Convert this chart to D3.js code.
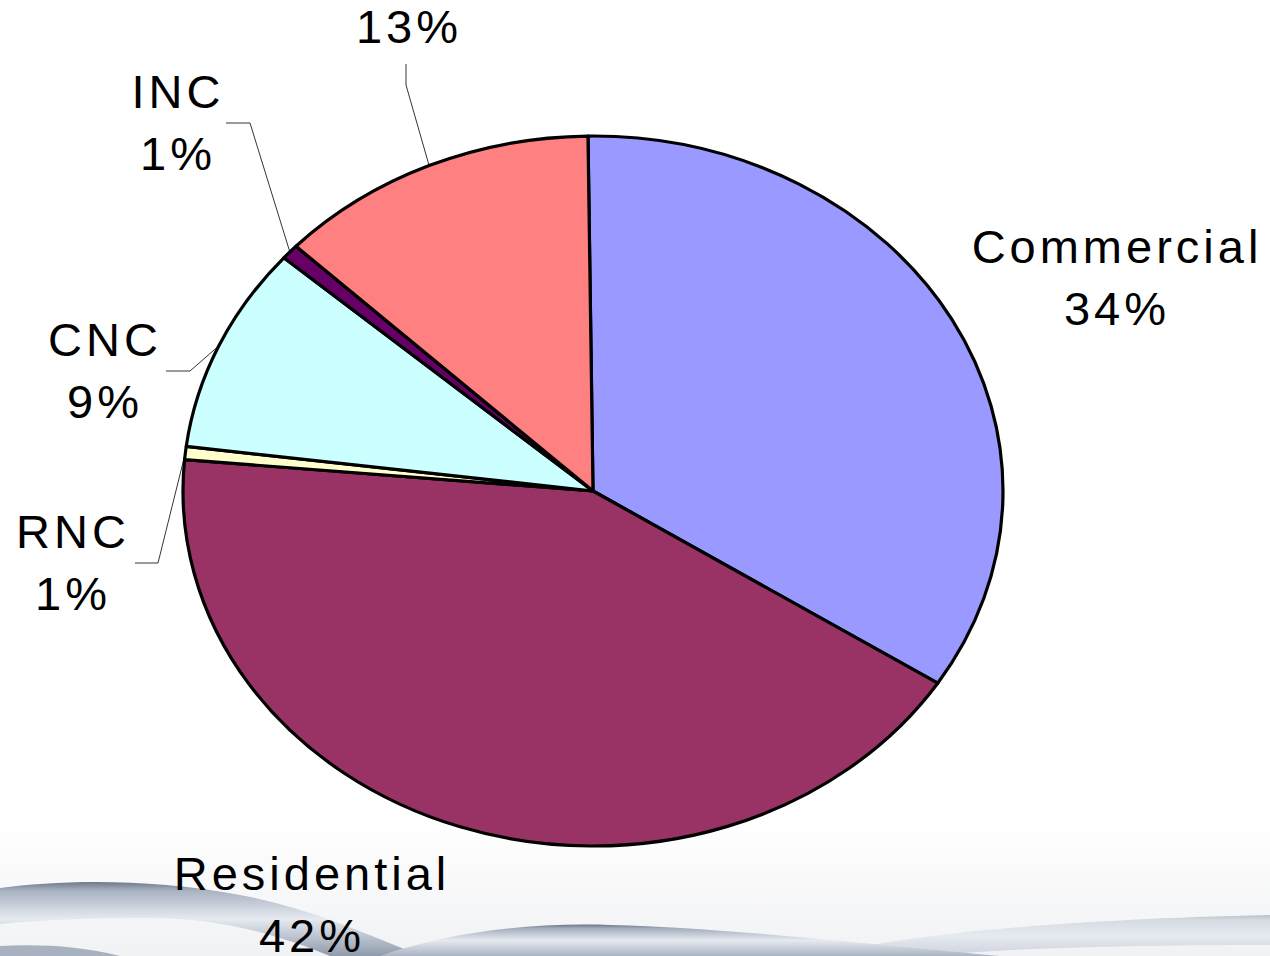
<!DOCTYPE html>
<html>
<head>
<meta charset="utf-8">
<script src="https://cdn.jsdelivr.net/npm/d3@7"></script>
<style>
  html, body { margin: 0; padding: 0; background: #fff; overflow: hidden; }
  text { font-family: "Liberation Sans", Arial, sans-serif; }
</style>
</head>
<body>
<svg id="chart" width="1270" height="956"></svg>
<script>
// slice data, clockwise from 12 o'clock
const categories = ['Commercial', 'Residential', 'RNC', 'CNC', 'INC', 'Industrial'];
const shares = [34.3, 42.3, 0.6, 9.4, 0.7, 12.7];
const colors = ['#9999ff', '#993366', '#ffffcc', '#ccffff', '#660066', '#ff8080'];

// label placement (centre x, first baseline) and leader elbow, px
const labelPos = {
  Commercial:  { x: 1115, y: 263 },
  Residential: { x: 310, y: 890 },
  RNC:         { x: 71, y: 548, leader: [[135, 563], [158, 563]] },
  CNC:         { x: 103, y: 356, leader: [[166, 371], [190, 371]] },
  INC:         { x: 176, y: 108, leader: [[226, 123], [250, 123]] },
  Industrial:  { x: 407, y: -19, leader: [[406, 64], [406, 85]] }
};

const svg = d3.select('#chart');
const W = 1270, H = 956;
const cx = 593, cy = 491, rx = 410, ry = 355;
const startAngle = -0.7 * Math.PI / 180;

// slide background swooshes
const defs = svg.append('defs');
const bg = defs.append('linearGradient').attr('id', 'bg').attr('x1', 0).attr('y1', 0).attr('x2', 0).attr('y2', 1);
bg.append('stop').attr('offset', '0%').attr('stop-color', '#ffffff');
bg.append('stop').attr('offset', '100%').attr('stop-color', '#f1f2f4');
svg.append('rect').attr('x', 0).attr('y', 820).attr('width', W).attr('height', H - 820).attr('fill', 'url(#bg)');

function band(id, c1, c2, c3) {
  const g = defs.append('linearGradient').attr('id', id).attr('x1', 0).attr('y1', 0).attr('x2', 0).attr('y2', 1);
  g.append('stop').attr('offset', '0%').attr('stop-color', c1);
  g.append('stop').attr('offset', '12%').attr('stop-color', c2);
  g.append('stop').attr('offset', '50%').attr('stop-color', '#e6eaf0');
  g.append('stop').attr('offset', '100%').attr('stop-color', c3);
}
band('sw1', '#6f7a8c', '#a9b3c2', '#8e9aac');
band('sw2', '#6c7687', '#a3adbd', '#aab4c3');
band('sw3', '#b9c0cb', '#d6dbe2', '#cdd3dc');

const swoosh = svg.append('g');
swoosh.append('path')
  .attr('d', 'M0,888 C60,880 150,878 240,895 C300,906 360,930 420,956 L330,956 C280,935 220,918 150,918 C90,918 40,920 0,924 Z')
  .attr('fill', 'url(#sw1)');
swoosh.append('path')
  .attr('d', 'M0,946 C40,944 80,946 120,956 L0,956 Z')
  .attr('fill', '#a7b1bf');
swoosh.append('path')
  .attr('d', 'M820,956 C900,935 1050,920 1270,915 L1270,945 C1100,945 980,950 930,956 Z')
  .attr('fill', 'url(#sw3)');
swoosh.append('path')
  .attr('d', 'M380,956 C440,935 520,922 610,925 C720,928 830,940 1000,956 Z')
  .attr('fill', 'url(#sw2)');

// pie drawn on a circle and squashed vertically into the ellipse
const pie = d3.pie().sort(null).value(d => d)
  .startAngle(startAngle).endAngle(startAngle + 2 * Math.PI);
const arcs = pie(shares);
const arc = d3.arc().innerRadius(0).outerRadius(rx);

svg.append('g')
  .attr('transform', `translate(${cx},${cy}) scale(1,${ry / rx})`)
  .selectAll('path')
  .data(arcs)
  .enter().append('path')
  .attr('d', arc)
  .attr('fill', (d, i) => colors[i])
  .attr('stroke', '#000')
  .attr('stroke-width', 3.2)
  .attr('stroke-linejoin', 'round')
  .attr('vector-effect', 'non-scaling-stroke');

// point on the ellipse edge at a pie angle
function edge(a) {
  return [cx + rx * Math.sin(a), cy - ry * Math.cos(a)];
}

const labels = svg.append('g');
arcs.forEach((d, i) => {
  const name = categories[i];
  const p = labelPos[name];
  const mid = (d.startAngle + d.endAngle) / 2;
  if (p.leader) {
    const pts = p.leader.concat([edge(mid)]);
    labels.append('path')
      .attr('d', d3.line()(pts))
      .attr('fill', 'none')
      .attr('stroke', '#000')
      .attr('stroke-width', 0.8);
  }
  const t = labels.append('text')
    .attr('x', p.x)
    .attr('y', p.y)
    .attr('text-anchor', 'middle')
    .attr('font-size', '47px')
    .attr('letter-spacing', '4px')
    .attr('fill', '#000');
  t.append('tspan').attr('x', p.x + 2).text(name);
  t.append('tspan').attr('x', p.x + 2).attr('dy', 62).text(Math.round(d.value) + '%');
});
</script>
</body>
</html>
